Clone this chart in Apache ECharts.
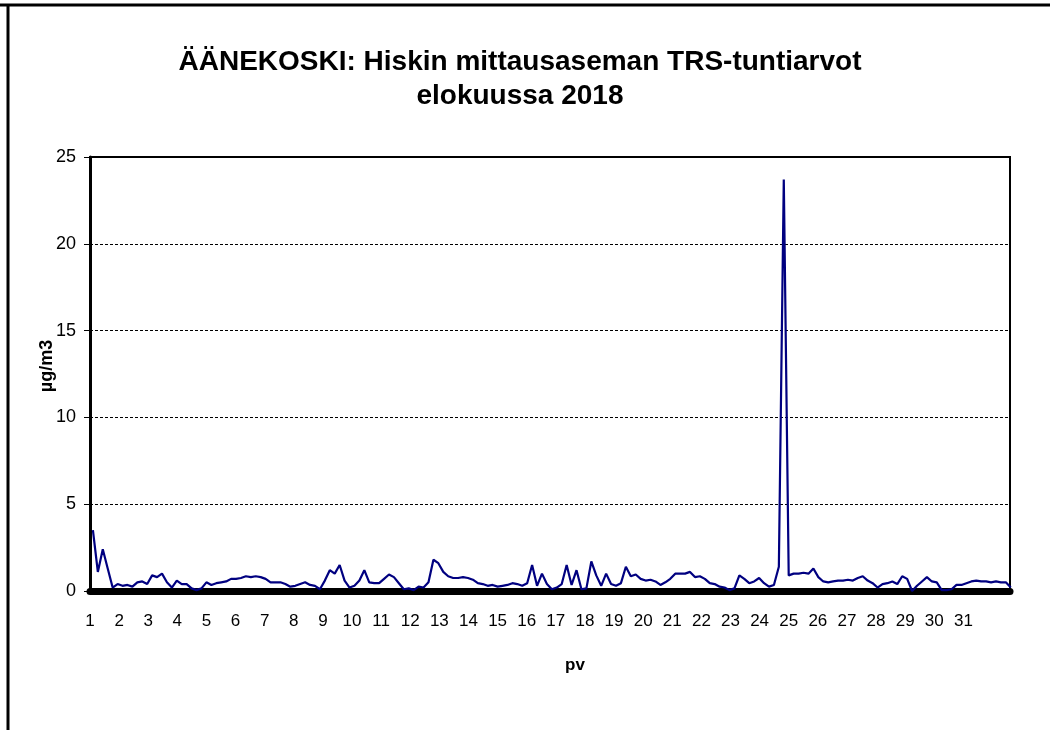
<!DOCTYPE html>
<html lang="fi">
<head>
    <meta charset="UTF-8">
    <script src="https://cdn.jsdelivr.net/npm/echarts@6/dist/echarts.min.js"></script>
    <title>TRS Hiski</title>
</head>
<body style="margin:0;background:#fff">
    <div id="chart" style="width:1050px;height:730px;"></div>

    <script type="text/javascript">
        // päivät (akselin tekstit)
        var dayLabels = [];
        for (var d = 1; d <= 31; d++) dayLabels.push(String(d));

        // TRS-arvot (µg/m3), luettu kuvasta noin 4 tunnin välein, 1.8. alusta kuun loppuun
        var trs1 = [3.5, 1.1, 2.4, 1.3, 0.2, 0.4, 0.3, 0.35, 0.25, 0.5, 0.55, 0.4, 0.9, 0.8, 1.0, 0.5, 0.2, 0.6, 0.4, 0.4,
                    0.15, 0.05, 0.15, 0.5, 0.35, 0.45, 0.5, 0.55, 0.7, 0.7, 0.75, 0.85, 0.8, 0.85, 0.8, 0.7, 0.5];
        var trs2 = [0.5, 0.5, 0.4, 0.25, 0.3, 0.4, 0.5, 0.35, 0.3, 0.1, 0.6, 1.2, 1.0, 1.5, 0.6, 0.2, 0.3, 0.6, 1.2, 0.5,
                    0.45, 0.45, 0.7, 0.95, 0.8, 0.45, 0.1, 0.15, 0.05, 0.25, 0.2, 0.5, 1.8, 1.6, 1.1, 0.85, 0.75, 0.75];
        var trs3 = [0.8, 0.75, 0.65, 0.45, 0.4, 0.3, 0.35, 0.25, 0.3, 0.35, 0.45, 0.4, 0.3, 0.45, 1.5, 0.3, 1.0, 0.4, 0.1, 0.2,
                    0.4, 1.5, 0.35, 1.2, 0.1, 0.15, 1.7, 0.9, 0.3, 1.0, 0.4, 0.3, 0.45, 1.4, 0.85, 0.95, 0.7];
        var trs4 = [0.6, 0.65, 0.55, 0.35, 0.5, 0.7, 1.0, 1.0, 1.0, 1.1, 0.8, 0.85, 0.7, 0.45, 0.4, 0.25, 0.2, 0.05, 0.15, 0.9,
                    0.7, 0.45, 0.55, 0.75, 0.45, 0.25, 0.35, 1.4, 23.7, 0.9, 1.0, 1.0, 1.05, 1.0, 1.3, 0.8, 0.55];
        var trs5 = [0.5, 0.55, 0.6, 0.6, 0.65, 0.6, 0.75, 0.85, 0.6, 0.45, 0.2, 0.4, 0.45, 0.55, 0.4, 0.85, 0.7, 0.0, 0.3, 0.55,
                    0.8, 0.55, 0.5, 0.05, 0.05, 0.1, 0.35, 0.35, 0.45, 0.55, 0.6, 0.55, 0.55, 0.5, 0.55, 0.5, 0.5, 0.2];
        var trs = trs1.concat(trs2, trs3, trs4, trs5);

        // näytteiden paikka päiväakselilla
        var dayStart = 1.1, dayStep = 0.1695;
        var seriesData = trs.map(function (v, i) { return [dayStart + i * dayStep, v]; });

        var chart = echarts.init(document.getElementById('chart'));
        chart.setOption({
            animation: false,
            backgroundColor: '#ffffff',
            textStyle: { fontFamily: 'Liberation Sans, Arial, sans-serif' },
            title: {
                text: 'ÄÄNEKOSKI: Hiskin mittausaseman TRS-tuntiarvot\nelokuussa 2018',
                left: 515, top: 40, textAlign: 'center',
                textStyle: { fontSize: 28, fontWeight: 'bold', color: '#000', lineHeight: 34,
                    fontFamily: 'Liberation Sans, Arial, sans-serif' }
            },
            grid: { left: 90, right: 40, top: 157, bottom: 139, show: true,
                borderColor: '#000', borderWidth: 2, backgroundColor: '#fff' },
            xAxis: {
                type: 'value', min: 1, max: 32.6, interval: 1, offset: 4,
                axisLine: { lineStyle: { color: '#000', width: 7 } },
                axisTick: { show: false },
                splitLine: { show: false },
                axisLabel: { color: '#000', fontSize: 17, margin: 18,
                    showMaxLabel: false,
                    formatter: function (v) { return v <= 31 ? dayLabels[v - 1] : ''; } },
                name: 'pv', nameLocation: 'middle', nameGap: 62,
                nameTextStyle: { fontSize: 17, fontWeight: 'bold', color: '#000', padding: [0, 0, 0, 50] }
            },
            yAxis: {
                type: 'value', min: 0, max: 25, interval: 5,
                axisLine: { show: true, lineStyle: { color: '#000', width: 3 } },
                axisTick: { show: true, length: 6, lineStyle: { color: '#000', width: 1 } },
                splitLine: { show: true, lineStyle: { color: '#000', width: 1, type: [3, 2] } },
                axisLabel: { color: '#000', fontSize: 18, margin: 14 }
            },
            graphic: [
                { type: 'line', shape: { x1: 0, y1: 5, x2: 1050, y2: 5 }, style: { stroke: '#000', lineWidth: 3 } },
                { type: 'line', shape: { x1: 8, y1: 5, x2: 8, y2: 730 }, style: { stroke: '#000', lineWidth: 3 } },
                { type: 'text', x: 47, y: 366, rotation: Math.PI / 2,
                    style: { text: 'µg/m3', fill: '#000', fontSize: 18, fontWeight: 'bold',
                        fontFamily: 'Liberation Sans, Arial, sans-serif', align: 'center', verticalAlign: 'middle' } }
            ],
            series: [{
                type: 'line',
                data: seriesData,
                showSymbol: false,
                lineStyle: { color: '#000080', width: 2.2 },
                itemStyle: { color: '#000080' }
            }]
        });
    </script>
</body>
</html>
